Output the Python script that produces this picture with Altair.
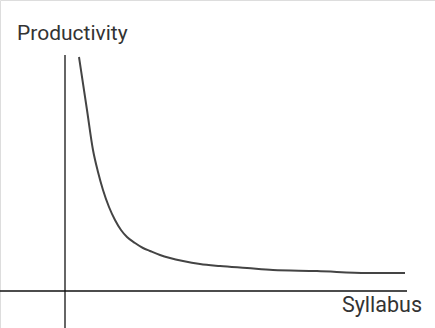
import altair as alt
import pandas as pd

# curve values
syllabus = [1.4, 2.2, 2.8, 3.3, 3.8, 4.4, 5.0, 5.6, 6.2, 7.0, 7.8, 8.5, 9.5, 10.5,
            11.8, 13.5, 15.5, 18.2, 20.8, 25.2, 30.2, 34.0]
productivity = [23.4, 18.1, 14.1, 11.9, 10.1, 8.4, 7.1, 6.1, 5.4, 4.8, 4.3, 4.0, 3.6, 3.3,
                3.0, 2.7, 2.5, 2.3, 2.1, 2.0, 1.8, 1.8]

# axis extents
x_axis_x = [-6.5, 34.2]
y_axis_y = [-3.7, 23.6]

# labels
label_text = ["Productivity", "Syllabus"]
label_x = [-4.8, 35.7]
label_y = [25.1, -2.1]
label_align = ["left", "right"]

xs = alt.Scale(domain=[-6.5, 37.0], nice=False, zero=False)
ys = alt.Scale(domain=[-3.7, 29.1], nice=False, zero=False)

curve_df = pd.DataFrame({"x": syllabus, "y": productivity})
xaxis_df = pd.DataFrame({"x": [x_axis_x[0]], "x2": [x_axis_x[1]], "y": [0.0]})
yaxis_df = pd.DataFrame({"x": [0.0], "y": [y_axis_y[0]], "y2": [y_axis_y[1]]})
lab_df = pd.DataFrame({"t": label_text, "x": label_x, "y": label_y, "a": label_align})

curve = alt.Chart(curve_df).mark_line(color="#444444", strokeWidth=2, interpolate="monotone").encode(
    x=alt.X("x:Q", scale=xs, axis=None),
    y=alt.Y("y:Q", scale=ys, axis=None),
)

xaxis = alt.Chart(xaxis_df).mark_rule(color="#111111", strokeWidth=1.5).encode(
    x=alt.X("x:Q", scale=xs, axis=None), x2="x2:Q", y=alt.Y("y:Q", scale=ys, axis=None)
)
yaxis = alt.Chart(yaxis_df).mark_rule(color="#666666", strokeWidth=2).encode(
    x=alt.X("x:Q", scale=xs, axis=None), y=alt.Y("y:Q", scale=ys, axis=None), y2="y2:Q"
)

lab_left = alt.Chart(lab_df[lab_df.a == "left"]).mark_text(
    align="left", baseline="alphabetic", font="Roboto", fontSize=21, color="#333333"
).encode(x=alt.X("x:Q", scale=xs, axis=None), y=alt.Y("y:Q", scale=ys, axis=None), text="t:N")
lab_right = alt.Chart(lab_df[lab_df.a == "right"]).mark_text(
    align="right", baseline="alphabetic", font="Roboto", fontSize=21.5, color="#333333"
).encode(x=alt.X("x:Q", scale=xs, axis=None), y=alt.Y("y:Q", scale=ys, axis=None), text="t:N")

chart = alt.layer(yaxis, xaxis, curve, lab_left, lab_right).properties(
    width=435, height=328, padding=0, autosize=alt.AutoSizeParams(type="none")
).configure_view(stroke=None).configure(background="white")

chart.save("out.html", embed_options={"renderer": "svg", "actions": False})
